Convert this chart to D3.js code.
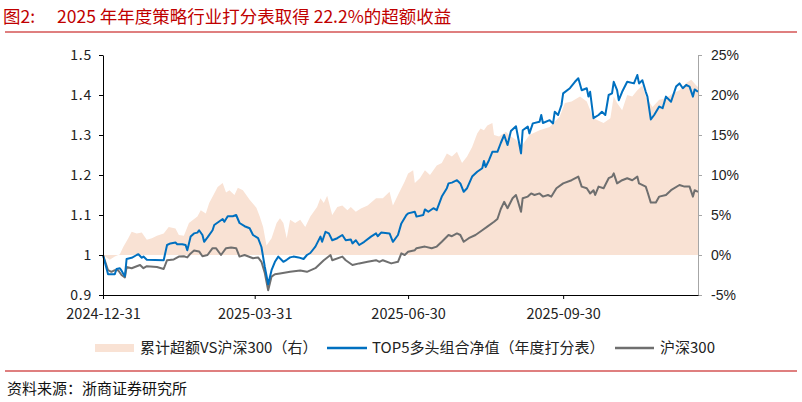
<!DOCTYPE html>
<html><head><meta charset="utf-8">
<script src="https://cdn.jsdelivr.net/npm/d3@7"></script>
<style>
html,body{margin:0;padding:0;background:#fff;}
svg{display:block;}
</style></head>
<body>
<svg id="chart" width="802" height="402"></svg>
<script>
// ---------- data ----------
const titleLabel = "图2:";
const titleText = "2025 年年度策略行业打分表取得 22.2%的超额收益";
const sourceText = "资料来源：浙商证券研究所";
const legendLabels = ["累计超额VS沪深300（右）", "TOP5多头组合净值（年度打分表）", "沪深300"];
const xTickDates = ["2024-12-31", "2025-03-31", "2025-06-30", "2025-09-30"];
const leftTicks = [0.9, 1.0, 1.1, 1.2, 1.3, 1.4, 1.5];
const leftTickLabels = ["0.9", "1", "1.1", "1.2", "1.3", "1.4", "1.5"];
const rightTicks = [-5, 0, 5, 10, 15, 20, 25];
const rightTickLabels = ["-5%", "0%", "5%", "10%", "15%", "20%", "25%"];
const xDomain = ["2024-12-31", "2025-12-19"];

// TOP5 多头组合净值（年度打分表）
const top5Series = [
["2024-12-31",1.000],["2025-01-03",0.952],["2025-01-07",0.952],["2025-01-08",0.965],["2025-01-10",0.967],
["2025-01-11",0.961],["2025-01-12",0.953],["2025-01-13",0.947],["2025-01-14",0.990],["2025-01-17",0.993],
["2025-01-20",1.000],["2025-01-21",1.002],["2025-01-23",0.993],["2025-01-24",0.996],["2025-01-26",0.988],
["2025-02-05",0.987],["2025-02-07",1.025],["2025-02-09",1.029],["2025-02-12",1.031],["2025-02-13",1.027],
["2025-02-16",1.027],["2025-02-18",1.025],["2025-02-19",1.012],["2025-02-20",1.029],["2025-02-21",1.046],
["2025-02-23",1.054],["2025-02-25",1.056],["2025-02-26",1.062],["2025-02-28",1.050],["2025-03-01",1.033],
["2025-03-03",1.044],["2025-03-06",1.062],["2025-03-07",1.075],["2025-03-12",1.090],["2025-03-13",1.083],
["2025-03-15",1.097],["2025-03-18",1.097],["2025-03-20",1.100],["2025-03-22",1.080],["2025-03-25",1.072],
["2025-03-28",1.067],["2025-03-30",1.050],["2025-04-02",1.042],["2025-04-04",1.020],["2025-04-06",0.970],
["2025-04-08",0.927],["2025-04-10",0.962],["2025-04-12",0.983],["2025-04-14",0.996],["2025-04-17",0.983],
["2025-04-19",0.988],["2025-04-21",0.994],["2025-04-23",0.996],["2025-04-26",0.994],["2025-04-29",0.990],
["2025-05-01",1.000],["2025-05-03",1.005],["2025-05-06",1.021],["2025-05-09",1.046],["2025-05-10",1.033],
["2025-05-12",1.058],["2025-05-14",1.054],["2025-05-16",1.037],["2025-05-19",1.042],["2025-05-22",1.050],
["2025-05-24",1.037],["2025-05-27",1.039],["2025-05-28",1.029],["2025-05-30",1.037],["2025-06-01",1.025],
["2025-06-04",1.033],["2025-06-08",1.046],["2025-06-11",1.054],["2025-06-12",1.047],["2025-06-14",1.056],
["2025-06-19",1.054],["2025-06-21",1.033],["2025-06-24",1.050],["2025-06-26",1.079],["2025-06-29",1.100],
["2025-06-30",1.104],["2025-07-04",1.108],["2025-07-05",1.096],["2025-07-09",1.100],["2025-07-10",1.114],
["2025-07-12",1.108],["2025-07-15",1.117],["2025-07-17",1.112],["2025-07-20",1.146],["2025-07-23",1.167],
["2025-07-24",1.179],["2025-07-26",1.181],["2025-07-29",1.187],["2025-07-31",1.179],["2025-08-02",1.158],
["2025-08-04",1.167],["2025-08-07",1.196],["2025-08-10",1.208],["2025-08-13",1.217],["2025-08-14",1.235],
["2025-08-15",1.220],["2025-08-17",1.237],["2025-08-19",1.258],["2025-08-22",1.258],["2025-08-24",1.280],
["2025-08-26",1.300],["2025-08-28",1.275],["2025-08-30",1.310],["2025-09-02",1.322],["2025-09-03",1.300],
["2025-09-05",1.254],["2025-09-06",1.312],["2025-09-09",1.321],["2025-09-10",1.304],["2025-09-12",1.329],
["2025-09-16",1.333],["2025-09-17",1.350],["2025-09-18",1.330],["2025-09-22",1.337],["2025-09-24",1.329],
["2025-09-25",1.358],["2025-09-27",1.350],["2025-09-29",1.375],["2025-09-30",1.404],["2025-10-04",1.417],
["2025-10-07",1.433],["2025-10-09",1.442],["2025-10-11",1.412],["2025-10-14",1.417],["2025-10-15",1.396],
["2025-10-16",1.408],["2025-10-18",1.342],["2025-10-21",1.350],["2025-10-23",1.358],["2025-10-25",1.350],
["2025-10-27",1.400],["2025-10-29",1.404],["2025-10-30",1.433],["2025-11-01",1.412],["2025-11-02",1.387],
["2025-11-04",1.408],["2025-11-07",1.433],["2025-11-11",1.429],["2025-11-13",1.450],["2025-11-14",1.429],
["2025-11-16",1.437],["2025-11-18",1.408],["2025-11-19",1.396],["2025-11-21",1.339],["2025-11-23",1.350],
["2025-11-26",1.371],["2025-11-28",1.367],["2025-11-30",1.396],["2025-12-03",1.383],["2025-12-06",1.421],
["2025-12-08",1.429],["2025-12-10",1.417],["2025-12-12",1.425],["2025-12-14",1.421],["2025-12-16",1.396],
["2025-12-17",1.414],["2025-12-19",1.408]
];

// 沪深300
const hs300Series = [
["2024-12-31",1.000],["2025-01-03",0.962],["2025-01-05",0.958],["2025-01-07",0.962],["2025-01-09",0.962],
["2025-01-11",0.950],["2025-01-13",0.944],["2025-01-14",0.970],["2025-01-17",0.967],["2025-01-20",0.972],
["2025-01-22",0.975],["2025-01-24",0.967],["2025-01-26",0.972],["2025-02-01",0.970],["2025-02-05",0.965],
["2025-02-07",0.987],["2025-02-11",0.989],["2025-02-14",0.996],["2025-02-17",0.997],["2025-02-19",0.994],
["2025-02-21",1.004],["2025-02-23",1.011],["2025-02-26",1.009],["2025-02-28",0.997],["2025-03-03",1.000],
["2025-03-06",1.017],["2025-03-08",1.017],["2025-03-11",1.000],["2025-03-14",1.017],["2025-03-17",1.019],
["2025-03-20",1.017],["2025-03-22",0.996],["2025-03-25",1.000],["2025-03-30",0.992],["2025-04-02",0.994],
["2025-04-04",0.983],["2025-04-06",0.955],["2025-04-08",0.912],["2025-04-10",0.946],["2025-04-12",0.952],
["2025-04-15",0.954],["2025-04-21",0.958],["2025-04-27",0.961],["2025-05-01",0.958],["2025-05-06",0.967],
["2025-05-11",0.987],["2025-05-15",1.000],["2025-05-16",0.987],["2025-05-22",0.996],["2025-05-24",0.987],
["2025-05-28",0.975],["2025-06-01",0.979],["2025-06-06",0.983],["2025-06-11",0.987],["2025-06-13",0.983],
["2025-06-15",0.987],["2025-06-20",0.979],["2025-06-24",0.983],["2025-06-26",1.004],["2025-06-28",1.000],
["2025-06-30",1.008],["2025-07-04",1.012],["2025-07-05",1.017],["2025-07-10",1.021],["2025-07-14",1.017],
["2025-07-17",1.021],["2025-07-20",1.033],["2025-07-24",1.050],["2025-07-26",1.047],["2025-07-29",1.054],
["2025-07-31",1.050],["2025-08-02",1.033],["2025-08-05",1.042],["2025-08-09",1.050],["2025-08-13",1.062],
["2025-08-16",1.071],["2025-08-20",1.083],["2025-08-22",1.090],["2025-08-24",1.115],["2025-08-26",1.133],
["2025-08-28",1.117],["2025-08-31",1.142],["2025-09-02",1.150],["2025-09-03",1.137],["2025-09-05",1.108],
["2025-09-06",1.142],["2025-09-09",1.146],["2025-09-11",1.154],["2025-09-13",1.150],["2025-09-16",1.154],
["2025-09-18",1.146],["2025-09-21",1.150],["2025-09-23",1.146],["2025-09-26",1.167],["2025-09-30",1.179],
["2025-10-05",1.187],["2025-10-09",1.196],["2025-10-11",1.171],["2025-10-14",1.167],["2025-10-16",1.154],
["2025-10-18",1.162],["2025-10-19",1.150],["2025-10-21",1.171],["2025-10-24",1.167],["2025-10-27",1.192],
["2025-10-29",1.196],["2025-10-30",1.204],["2025-11-01",1.179],["2025-11-04",1.187],["2025-11-07",1.192],
["2025-11-10",1.187],["2025-11-13",1.196],["2025-11-14",1.179],["2025-11-18",1.171],["2025-11-19",1.158],
["2025-11-21",1.131],["2025-11-24",1.131],["2025-11-26",1.146],["2025-11-30",1.150],["2025-12-03",1.162],
["2025-12-08",1.175],["2025-12-11",1.171],["2025-12-14",1.171],["2025-12-16",1.146],["2025-12-17",1.162],
["2025-12-19",1.158]
];

// 累计超额VS沪深300（右）, in %
const excessSeries = [
["2024-12-31",0],["2025-01-04",-0.6],["2025-01-07",-0.2],["2025-01-10",0.1],["2025-01-12",1.0],
["2025-01-15",2.1],["2025-01-17",2.9],["2025-01-20",2.7],["2025-01-23",2.8],["2025-01-26",1.9],
["2025-01-29",2.1],["2025-02-01",2.4],["2025-02-05",2.7],["2025-02-08",3.5],["2025-02-12",3.3],
["2025-02-14",2.5],["2025-02-17",2.4],["2025-02-20",4.0],["2025-02-25",4.8],["2025-02-27",5.6],
["2025-03-02",5.2],["2025-03-04",6.5],["2025-03-07",7.7],["2025-03-09",8.5],["2025-03-12",9.0],
["2025-03-14",7.8],["2025-03-16",8.1],["2025-03-19",7.5],["2025-03-21",8.4],["2025-03-24",8.1],
["2025-03-26",7.5],["2025-03-28",6.9],["2025-04-01",5.9],["2025-04-03",4.8],["2025-04-05",3.5],
["2025-04-07",1.2],["2025-04-10",2.1],["2025-04-13",4.0],["2025-04-15",4.6],["2025-04-17",4.0],
["2025-04-19",2.1],["2025-04-21",4.4],["2025-04-24",4.0],["2025-04-27",4.4],["2025-04-30",3.5],
["2025-05-03",4.8],["2025-05-07",6.0],["2025-05-09",7.1],["2025-05-11",6.5],["2025-05-13",7.4],
["2025-05-16",5.0],["2025-05-19",6.0],["2025-05-22",6.2],["2025-05-25",5.6],["2025-05-27",6.0],
["2025-05-30",5.4],["2025-06-02",5.8],["2025-06-06",6.2],["2025-06-11",7.1],["2025-06-15",7.1],
["2025-06-19",7.9],["2025-06-21",6.2],["2025-06-24",7.5],["2025-06-28",9.2],["2025-06-30",10.2],
["2025-07-03",10.6],["2025-07-04",9.0],["2025-07-07",9.6],["2025-07-10",10.6],["2025-07-13",10.0],
["2025-07-17",11.2],["2025-07-20",11.5],["2025-07-23",12.7],["2025-07-26",12.3],["2025-07-29",12.9],
["2025-08-01",11.5],["2025-08-04",12.3],["2025-08-07",13.5],["2025-08-10",15.2],["2025-08-12",15.8],
["2025-08-14",15.6],["2025-08-16",16.2],["2025-08-19",16.5],["2025-08-20",15.0],["2025-08-23",14.8],
["2025-08-27",15.4],["2025-08-30",14.8],["2025-09-02",14.4],["2025-09-05",13.5],["2025-09-10",15.0],
["2025-09-16",15.6],["2025-09-22",16.0],["2025-09-28",17.3],["2025-10-01",19.0],["2025-10-05",19.2],
["2025-10-10",19.8],["2025-10-14",19.2],["2025-10-18",17.1],["2025-10-22",16.7],["2025-10-24",16.5],
["2025-10-28",17.1],["2025-10-30",19.8],["2025-11-01",19.0],["2025-11-04",18.1],["2025-11-07",20.0],
["2025-11-10",19.8],["2025-11-13",20.6],["2025-11-16",21.2],["2025-11-18",19.8],["2025-11-22",18.5],
["2025-11-26",19.4],["2025-11-30",19.6],["2025-12-04",20.2],["2025-12-08",20.6],["2025-12-12",21.5],
["2025-12-15",21.9],["2025-12-18",21.2],["2025-12-19",21.0]
];

// ---------- drawing ----------
const parse = d3.utcParse("%Y-%m-%d");
const CJK = "'Noto Sans CJK SC', 'Noto Sans', sans-serif";
const colArea = "#F9E2D4", colBlue = "#0070C0", colGray = "#6F6F6F", colRed = "#C00000";

const svg = d3.select("#chart");
svg.append("rect").attr("width", 802).attr("height", 402).attr("fill", "#fff");

const plot = {left: 103, right: 698, top: 55, bottom: 295};

const x = d3.scaleUtc().domain(xDomain.map(parse)).range([plot.left, plot.right]);
const yL = d3.scaleLinear().domain([0.9, 1.5]).range([plot.bottom, plot.top]);
const yR = d3.scaleLinear().domain([-5, 25]).range([plot.bottom, plot.top]);

// title
const title = svg.append("text").attr("y", 23)
  .attr("font-family", CJK).attr("font-size", 17.5).attr("fill", colRed);
title.append("tspan").attr("x", 3).text(titleLabel);
title.append("tspan").attr("x", 57).text(titleText);
svg.append("line").attr("x1", 5).attr("x2", 797).attr("y1", 32).attr("y2", 32)
  .attr("stroke", colRed).attr("stroke-width", 1.2);

// area (right axis)
const area = d3.area()
  .x(d => x(parse(d[0])))
  .y0(yR(0))
  .y1(d => yR(d[1]));
svg.append("path").datum(excessSeries).attr("d", area).attr("fill", colArea);

// lines (left axis)
const line = d3.line().x(d => x(parse(d[0]))).y(d => yL(d[1]));
svg.append("path").datum(hs300Series).attr("d", line)
  .attr("fill", "none").attr("stroke", colGray).attr("stroke-width", 2).attr("stroke-linejoin", "round");
svg.append("path").datum(top5Series).attr("d", line)
  .attr("fill", "none").attr("stroke", colBlue).attr("stroke-width", 2).attr("stroke-linejoin", "round");

// left axis
const gL = svg.append("g").attr("transform", `translate(${plot.left},0)`)
  .call(d3.axisLeft(yL).tickValues(leftTicks).tickSize(4).tickSizeOuter(0).tickPadding(7)
    .tickFormat((d, i) => leftTickLabels[i]));
gL.select(".domain").attr("stroke", "#000");
gL.selectAll(".tick line").attr("stroke", "#000");
gL.selectAll("text").attr("font-family", CJK).attr("font-size", 14).attr("fill", "#222")
  .attr("letter-spacing", 0.8);

// right axis
const gR = svg.append("g").attr("transform", `translate(${plot.right},0)`)
  .call(d3.axisRight(yR).tickValues(rightTicks).tickSize(4).tickSizeOuter(0).tickPadding(9)
    .tickFormat((d, i) => rightTickLabels[i]));
gR.select(".domain").attr("stroke", "#A6A6A6");
gR.selectAll(".tick line").attr("stroke", "#A6A6A6");
gR.selectAll("text").attr("font-family", "'Liberation Sans', Arial, sans-serif").attr("font-size", 14).attr("fill", "#222");

// bottom axis
const gB = svg.append("g").attr("transform", `translate(0,${plot.bottom})`)
  .call(d3.axisBottom(x).tickValues(xTickDates.map(parse)).tickSize(4).tickSizeOuter(0).tickPadding(10)
    .tickFormat((d, i) => xTickDates[i]));
gB.select(".domain").attr("stroke", "#000");
gB.selectAll(".tick line").attr("stroke", "#000");
gB.selectAll("text").attr("font-family", CJK).attr("font-size", 14.5).attr("fill", "#222");

// legend
const ly = 348;
const leg = svg.append("g").attr("font-family", CJK).attr("font-size", 15).attr("fill", "#222");
leg.append("rect").attr("x", 95).attr("y", ly - 4).attr("width", 39).attr("height", 8).attr("fill", colArea);
leg.append("text").attr("x", 140).attr("y", ly + 5).text(legendLabels[0]);
leg.append("line").attr("x1", 327).attr("x2", 367).attr("y1", ly).attr("y2", ly)
  .attr("stroke", colBlue).attr("stroke-width", 2.5);
leg.append("text").attr("x", 372).attr("y", ly + 5).text(legendLabels[1]);
leg.append("line").attr("x1", 615).attr("x2", 654).attr("y1", ly).attr("y2", ly)
  .attr("stroke", colGray).attr("stroke-width", 2.5);
leg.append("text").attr("x", 660).attr("y", ly + 5).text(legendLabels[2]);

// footer
svg.append("line").attr("x1", 5).attr("x2", 797).attr("y1", 371).attr("y2", 371)
  .attr("stroke", colRed).attr("stroke-width", 1.2);
svg.append("text").attr("x", 7).attr("y", 394)
  .attr("font-family", CJK).attr("font-size", 15).attr("fill", "#111")
  .text(sourceText);
</script>
</body></html>
